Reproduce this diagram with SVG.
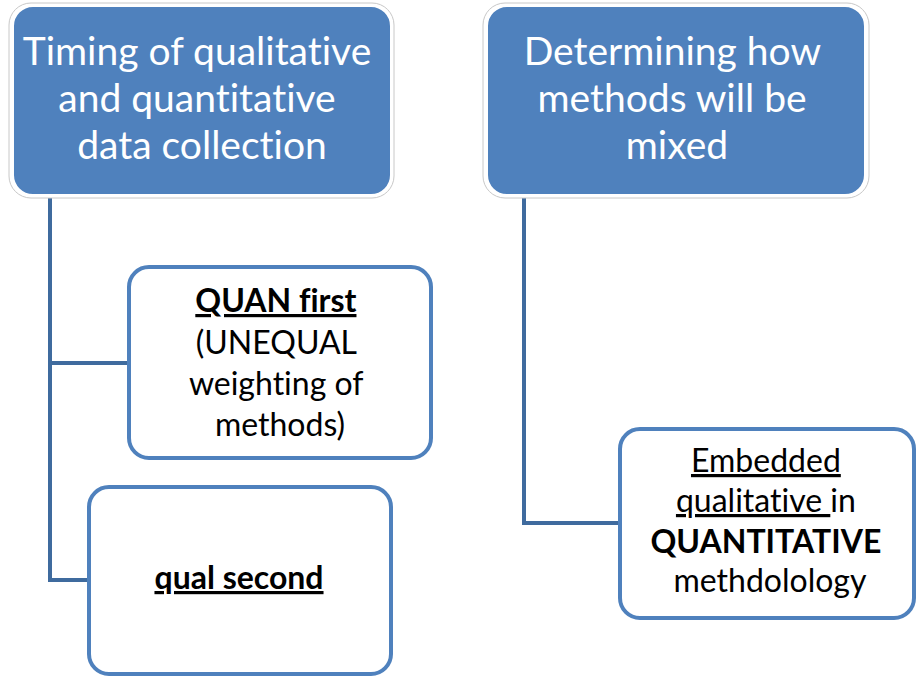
<svg xmlns="http://www.w3.org/2000/svg" width="917" height="677" viewBox="0 0 917 677">
  <style>
    text { font-variant-ligatures: none; }
    .hdr-halo { fill: #ffffff; stroke: #c8c8c8; stroke-width: 1; }
    .hdr { fill: #4F81BD; stroke: #ffffff; stroke-width: 2; }
    .hdr-text { font-family: Lato, "Open Sans", sans-serif; font-size: 39px; fill: #ffffff; text-anchor: middle; }
    .sub { fill: #ffffff; stroke: #4F81BD; stroke-width: 4; }
    .sub-text { font-family: Lato, "Open Sans", sans-serif; font-size: 32px; fill: #000000; text-anchor: middle; }
    .b { font-weight: bold; }
    .u { text-decoration: underline; }
    .link { fill: none; stroke: #3F6B9E; stroke-width: 4; stroke-linejoin: miter; }
  </style>

  <g id="connectors">
    <path class="link" d="M50,197 V580 H89"/>
    <path class="link" d="M50,363 H129"/>
    <path class="link" d="M524,197 V523 H620"/>
  </g>

  <g id="timing">
    <rect class="hdr-halo" x="9" y="3" width="385" height="195" rx="22"/>
    <rect class="hdr" x="13" y="6" width="378" height="189" rx="20"/>
    <text class="hdr-text">
      <tspan x="202" y="65">Timing of qualitative</tspan>
      <tspan x="202" y="112">and quantitative</tspan>
      <tspan x="202" y="159">data collection</tspan>
    </text>
  </g>

  <g id="mixing">
    <rect class="hdr-halo" x="483" y="3" width="386" height="195" rx="22"/>
    <rect class="hdr" x="487" y="6" width="378" height="189" rx="20"/>
    <text class="hdr-text">
      <tspan x="677" y="65">Determining how</tspan>
      <tspan x="677" y="112">methods will be</tspan>
      <tspan x="677" y="159">mixed</tspan>
    </text>
  </g>

  <g id="quan-first">
    <rect class="sub" x="129" y="267" width="302" height="191" rx="20"/>
    <text class="sub-text">
      <tspan x="280" y="312" class="b u">QUAN first</tspan>
      <tspan x="280" y="354">(UNEQUAL</tspan>
      <tspan x="280" y="395">weighting of</tspan>
      <tspan x="280" y="436">methods)</tspan>
    </text>
  </g>

  <g id="qual-second">
    <rect class="sub" x="89" y="487" width="302" height="187" rx="20"/>
    <text class="sub-text">
      <tspan x="239" y="589" class="b u">qual second</tspan>
    </text>
  </g>

  <g id="embedded">
    <rect class="sub" x="620" y="429" width="294" height="189" rx="20"/>
    <text class="sub-text">
      <tspan x="770" y="472" class="u">Embedded</tspan>
      <tspan x="770" y="512"><tspan class="u">qualitative&#160;</tspan>in</tspan>
      <tspan x="770" y="553" class="b">QUANTITATIVE</tspan>
      <tspan x="770" y="592">methdolology</tspan>
    </text>
  </g>
</svg>
